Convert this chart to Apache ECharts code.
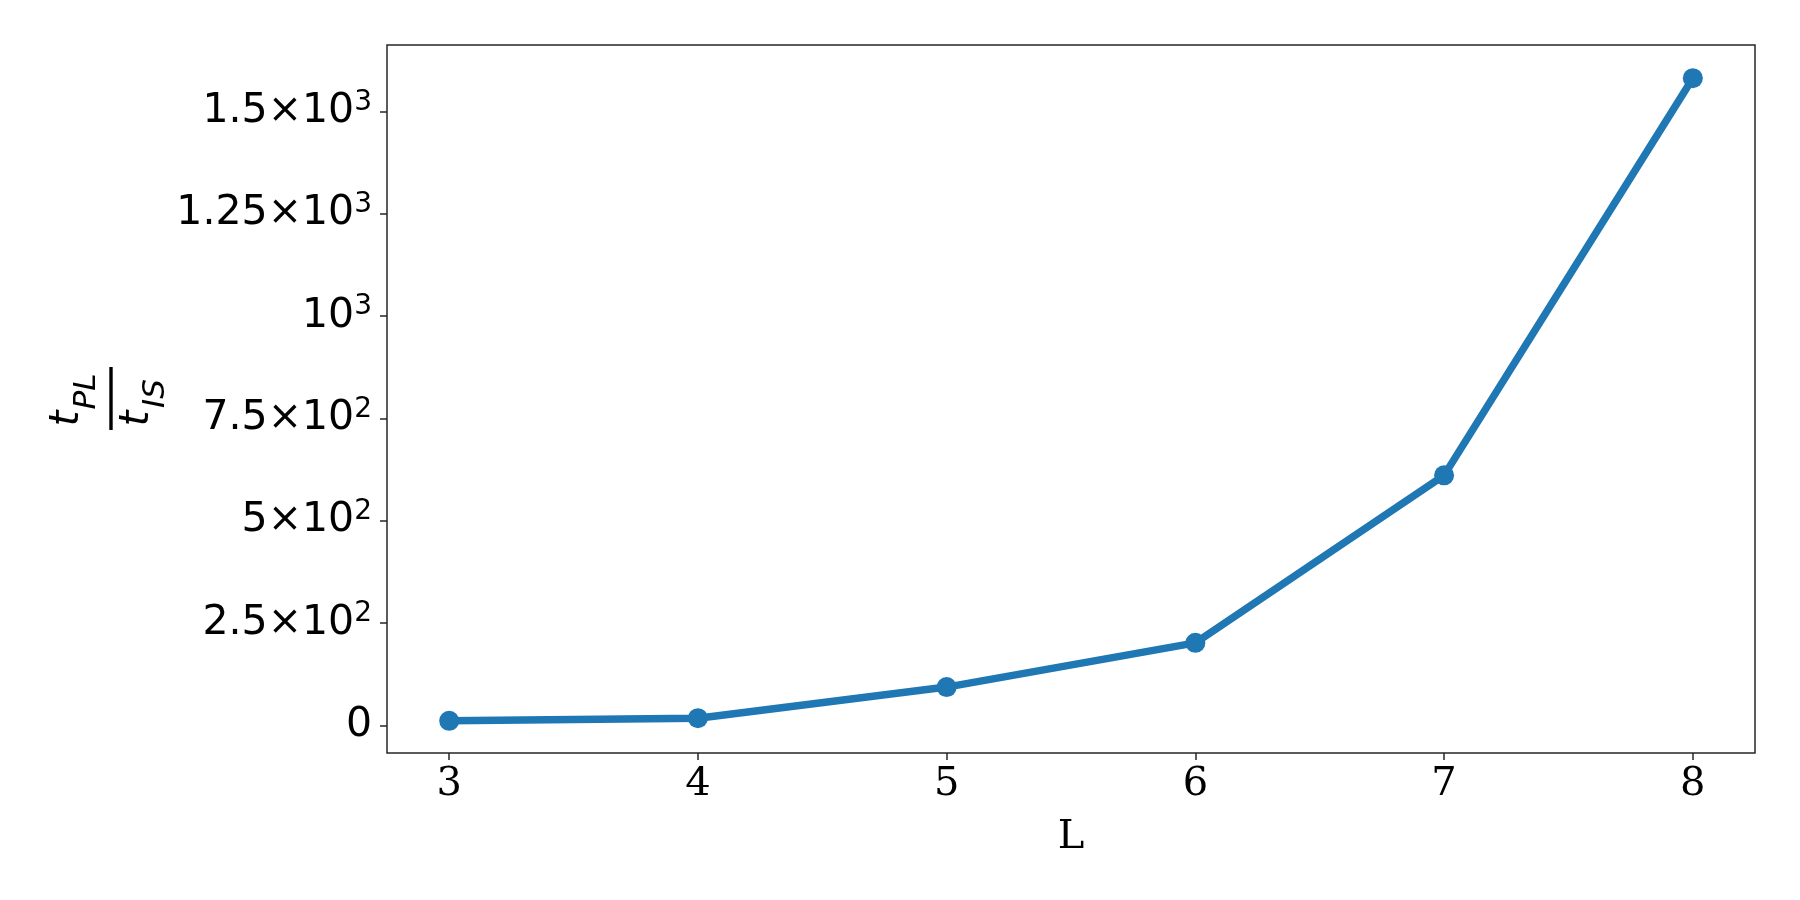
<!DOCTYPE html>
<html>
<head>
    <meta http-equiv="Content-Type" content="text/html; charset=utf-8" />
    <title>tPL / tIS</title>
    <script src="https://cdn.jsdelivr.net/npm/echarts@6/dist/echarts.min.js"></script>
    <style>
        html, body { margin: 0; padding: 0; background: #fff; }
        #main { width: 1800px; height: 900px; }
    </style>
</head>
<body>
    <div id="main"></div>
    <script type="text/javascript">
        // data
        var xValues = [3, 4, 5, 6, 7, 8];
        var ratio = [11.5, 18, 94, 202, 611, 1581];

        // tick labels
        var xTicks = [3, 4, 5, 6, 7, 8];
        var yTicks = [0, 250, 500, 750, 1000, 1250, 1500];
        var yTickMant = ['0', '2.5', '5', '7.5', '', '1.25', '1.5'];
        var yTickExp = ['', '2', '2', '2', '3', '3', '3'];

        var blue = '#1f77b4';
        var axisColor = '#262626';

        var points = [];
        for (var i = 0; i < xValues.length; i++) {
            points.push([xValues[i], ratio[i]]);
        }

        function yLabel(v) {
            var k = yTicks.indexOf(v);
            if (k < 0) return '';
            if (yTickExp[k] === '') return '{m|' + yTickMant[k] + '}';
            var m = yTickMant[k] === '' ? '10' : yTickMant[k] + '×10';
            return '{m|' + m + '}{s|' + yTickExp[k] + '}';
        }

        var myChart = echarts.init(document.getElementById('main'), null, { renderer: 'canvas' });

        var option = {
            animation: false,
            backgroundColor: '#fff',
            grid: {
                left: 387,
                right: 45,
                top: 45,
                bottom: 147,
                show: true,
                borderColor: axisColor,
                borderWidth: 1.5,
                backgroundColor: 'transparent'
            },
            xAxis: {
                type: 'value',
                min: 2.75,
                max: 8.25,
                name: 'L',
                nameLocation: 'middle',
                nameGap: 65,
                nameTextStyle: {
                    fontFamily: 'DejaVu Serif',
                    fontSize: 40,
                    color: '#000'
                },
                axisLine: { show: false, onZero: false },
                splitLine: { show: false },
                axisTick: {
                    show: true,
                    length: 7,
                    customValues: xTicks,
                    lineStyle: { color: axisColor, width: 1.5 }
                },
                axisLabel: {
                    customValues: xTicks,
                    margin: 12,
                    fontFamily: 'DejaVu Serif',
                    fontSize: 40,
                    lineHeight: 40,
                    color: '#000'
                }
            },
            yAxis: {
                type: 'value',
                min: -67,
                max: 1662,
                axisLine: { show: false, onZero: false },
                splitLine: { show: false },
                axisTick: {
                    show: true,
                    length: 7,
                    customValues: yTicks,
                    lineStyle: { color: axisColor, width: 1.5 }
                },
                axisLabel: {
                    customValues: yTicks,
                    margin: 15,
                    formatter: yLabel,
                    rich: {
                        m: {
                            fontFamily: 'DejaVu Sans',
                            fontSize: 41,
                            lineHeight: 46,
                            color: '#000',
                            verticalAlign: 'middle'
                        },
                        s: {
                            fontFamily: 'DejaVu Sans',
                            fontSize: 28,
                            lineHeight: 26,
                            color: '#000',
                            verticalAlign: 'top'
                        }
                    }
                }
            },
            // y axis title: t_PL over t_IS
            graphic: [{
                type: 'group',
                x: 111,
                y: 398.5,
                rotation: Math.PI / 2,
                children: [
                    { type: 'rect', shape: { x: -31.5, y: -1.7, width: 63, height: 3.4 }, style: { fill: '#000' } },
                    { type: 'text', x: -20, y: -43, style: { text: 't', font: 'italic 40px "DejaVu Sans"', fill: '#000', align: 'center', verticalAlign: 'middle' } },
                    { type: 'text', x: 7, y: -24, style: { text: 'PL', font: 'italic 31px "DejaVu Sans"', fill: '#000', align: 'center', verticalAlign: 'middle' } },
                    { type: 'text', x: -20, y: 27, style: { text: 't', font: 'italic 40px "DejaVu Sans"', fill: '#000', align: 'center', verticalAlign: 'middle' } },
                    { type: 'text', x: 5, y: 45, style: { text: 'IS', font: 'italic 31px "DejaVu Sans"', fill: '#000', align: 'center', verticalAlign: 'middle' } }
                ]
            }],
            series: [{
                type: 'line',
                data: points,
                lineStyle: { color: blue, width: 7.5 },
                itemStyle: { color: blue },
                symbol: 'circle',
                symbolSize: 20,
                showSymbol: true
            }]
        };

        myChart.setOption(option);
    </script>
</body>
</html>
